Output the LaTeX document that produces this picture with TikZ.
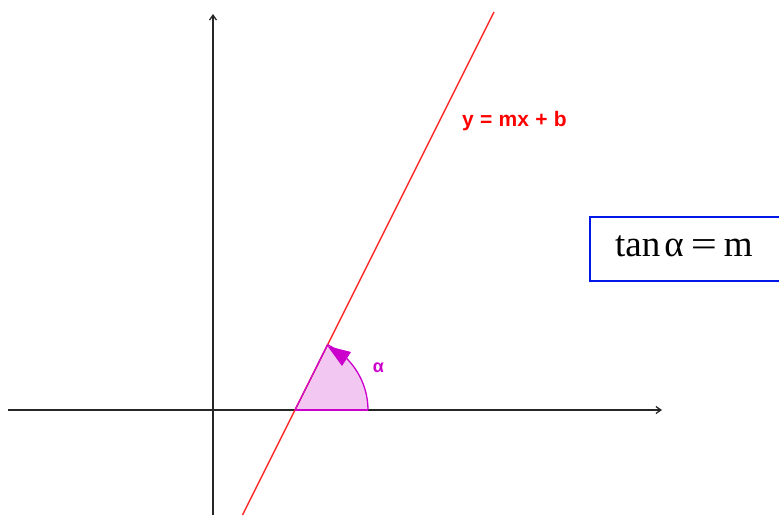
\documentclass[tikz,border=0pt]{standalone}
\usepackage{fontspec}
\setmainfont{Liberation Serif}
\setsansfont{Liberation Sans}
\usetikzlibrary{arrows.meta}
\definecolor{linered}{HTML}{FF2A2A}
\definecolor{angmag}{HTML}{CC00CC}
\definecolor{angfill}{HTML}{F2C8F2}
\definecolor{boxblue}{HTML}{0018E6}
\tikzset{
  axis/.style={line width=1.3pt, draw=black!85, -{Straight Barb[length=5pt,width=7pt]}},
  redline/.style={line width=1.5pt, draw=linered},
  eqbox/.style={draw=boxblue, line width=2pt, fill=white},
}
\begin{document}
\begin{tikzpicture}[x=1pt,y=-1pt]
\useasboundingbox (0,0) rectangle (779,515);
\clip (0,0) rectangle (779,515);
% angle sector
\coordinate (O) at (295,410);
\fill[angfill] (O) -- (368,410) arc[start angle=0,end angle=63.43,x radius=73,y radius=-73] -- cycle;
% axes
\coordinate (xs) at (8,410);
\coordinate (xe) at (662,410);
\coordinate (ys) at (213,515);
\coordinate (ye) at (213,14);
\draw[axis] (xs) -- (xe);
\draw[axis] (ys) -- (ye);
% red line
\coordinate (l1) at (242.5,515);
\coordinate (l2) at (494,12);
\draw[redline] (l1) -- (l2);
% arc
\draw[angmag, line width=1.3pt] (O) -- (368,410);
\draw[angmag, line width=1.3pt] (368,410) arc[start angle=0,end angle=63.43,x radius=73,y radius=-73];
\fill[angmag] (327.5,346) -- (351,352) -- (342,366) -- cycle;
\draw[angmag, line width=1.3pt] (O) -- (327.6,344.7);
\node[text=angmag, font=\sffamily\bfseries\fontsize{18}{20}\selectfont] (alpha) at (378.5,368) {α};
\node[text=red, font=\sffamily\bfseries\fontsize{21}{24}\selectfont, anchor=base west, inner sep=0pt] (eq) at (462,126.5) {y\hspace{0.3em}=\hspace{0.3em}mx\hspace{0.3em}+\hspace{0.3em}b};
\node[eqbox, minimum width=200pt, minimum height=64pt, anchor=west] (box) at (589,248.5) {};
\node[font=\fontsize{37}{40}\selectfont, anchor=base west, inner sep=0pt] (tan) at (615,256.5) {tan\hspace{4pt}α\hspace{7pt}\scalebox{1.25}[1]{=}\hspace{7pt}m};
\end{tikzpicture}
\end{document}
